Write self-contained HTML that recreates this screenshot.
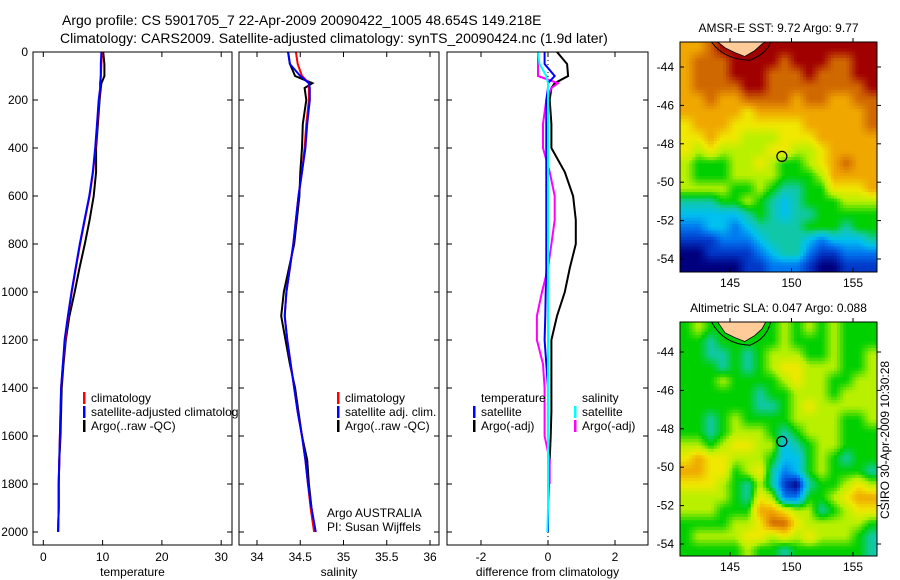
<!DOCTYPE html>
<html><head><meta charset="utf-8"><style>
html,body{margin:0;padding:0;background:#fff;}
svg{display:block;font-family:"Liberation Sans",sans-serif;}
</style></head><body>
<svg id="fig" width="900" height="580" viewBox="0 0 900 580">
<text x="62" y="25" font-size="14">Argo profile: CS 5901705_7 22-Apr-2009 20090422_1005 48.654S 149.218E</text>
<text x="60" y="43" font-size="14">Climatology: CARS2009. Satellite-adjusted climatology: synTS_20090424.nc (1.9d later)</text>
<g id="g"></g>
</svg>
<script>
// ---- profile data ----
const depths = [0,50,100,130,150,200,300,400,500,600,700,800,900,1000,1100,1200,1300,1400,1500,1600,1700,1800,1900,2000];
const tempClim = [9.9,9.8,9.7,9.6,9.6,9.4,9.1,8.8,8.4,7.8,7.0,6.2,5.5,4.8,4.2,3.7,3.3,3.0,2.9,2.8,2.7,2.6,2.6,2.5];
const tempSat  = [9.8,9.7,9.7,9.6,9.6,9.35,9.05,8.75,8.35,7.75,6.95,6.15,5.45,4.75,4.15,3.6,3.3,3.0,2.9,2.8,2.7,2.6,2.6,2.5];
const tempArgo = [10.1,10.3,10.3,9.8,9.7,9.5,9.2,8.9,8.9,8.5,7.8,7.0,6.1,5.3,4.4,3.8,3.4,3.1,3.0,2.9,2.7,2.6,2.6,2.5];
const salClim  = [34.45,34.47,34.52,34.6,34.6,34.6,34.57,34.55,34.52,34.48,34.45,34.42,34.38,34.34,34.32,34.35,34.39,34.43,34.47,34.52,34.56,34.59,34.62,34.66];
const salSat   = [34.36,34.38,34.5,34.6,34.61,34.61,34.58,34.56,34.52,34.48,34.45,34.42,34.38,34.34,34.32,34.35,34.39,34.43,34.47,34.52,34.56,34.59,34.63,34.68];
const salArgo  = [34.36,34.38,34.44,34.64,34.55,34.57,34.53,34.52,34.5,34.49,34.46,34.43,34.37,34.31,34.28,34.33,34.38,34.44,34.48,34.52,34.58,34.6,34.63,34.67];
const diffTempSat  = [-0.1,-0.1,0.2,0.0,0.0,-0.05,-0.05,-0.05,-0.05,-0.05,-0.05,-0.05,-0.05,-0.07,-0.08,-0.1,-0.05,0,0,0,0,0,0,0];
const diffTempArgo = [0.27,0.57,0.6,0.2,0.1,0.05,0.1,0.1,0.5,0.75,0.83,0.83,0.65,0.5,0.27,0.1,0.1,0.1,0.1,0.08,0.05,0.02,0,0];
const diffSalSat   = [-0.3,-0.25,-0.05,0,0,0,0,0,0,0,0,0,0,0,0,0,0,0,0,0,0,0,0,-0.02];
const diffSalArgo  = [-0.3,-0.3,-0.3,0.3,0.1,-0.05,-0.15,-0.15,0.05,0.2,0.2,0.1,0.0,-0.18,-0.33,-0.33,-0.15,-0.1,-0.1,-0.1,0.05,0.05,null,null];
const tempTicks = [0,10,20,30];
const salTicks = [34,34.5,35,35.5,36];
const salTickLabels = ["34","34.5","35","35.5","36"];
const diffTicks = [-2,0,2];
const depthTicks = [0,200,400,600,800,1000,1200,1400,1600,1800,2000];
// ---- map data (palette indices 0..10, rows north->south) ----
const sstTitle = "AMSR-E SST: 9.72 Argo: 9.77";
const slaTitle = "Altimetric SLA: 0.047 Argo: 0.088";
const sstGrid = [
"8,8,9,10,10,10,10,10,10,10,10,10,10,10,10,10",
"8,9,9,9,10,10,10,10,9,10,10,10,9,9,10,10",
"8,9,9,9,10,10,10,9,9,9,10,9,9,9,10,10",
"8,9,9,9,9,10,10,9,9,9,9,9,9,9,9,10",
"8,8,9,8,8,9,9,9,9,8,9,9,8,8,9,9",
"8,8,8,8,8,7,8,8,8,8,8,8,8,8,8,9",
"7,8,8,8,7,7,7,7,7,7,8,8,8,8,8,9",
"7,7,8,7,7,6,6,6,7,7,7,8,8,8,8,8",
"7,6,7,6,6,6,6,7,7,6,6,7,8,8,8,8",
"6,5,5,5,6,6,7,6,5,5,6,7,8,9,8,8",
"6,5,5,5,6,6,6,6,5,5,5,6,8,8,8,8",
"6,6,6,6,5,5,6,5,4,4,5,5,7,7,7,8",
"4,4,4,5,5,6,5,4,3,4,5,5,5,6,6,6",
"3,3,3,3,3,4,5,4,3,4,4,5,5,5,5,5",
"2,2,3,3,2,3,4,4,4,4,5,5,5,4,5,5",
"1,1,1,2,2,2,3,4,4,4,3,2,3,3,3,4",
"0,0,1,1,1,1,2,3,4,4,2,1,1,2,2,2",
"0,0,0,0,0,1,1,2,2,2,1,0,0,1,1,1"];
const slaGrid = [
"5,6,5,5,5,5,5,5,6,5,6,5,6,5,5,5",
"5,5,4,5,5,5,5,5,6,5,5,5,6,5,5,5",
"5,5,4,4,5,4,5,6,6,6,5,5,6,5,5,6",
"5,5,5,4,5,4,5,6,7,7,6,6,6,5,5,6",
"5,5,5,6,5,5,5,5,6,7,6,6,5,5,6,6",
"5,5,5,5,5,5,4,5,5,6,6,6,5,6,6,6",
"5,5,5,5,5,5,4,4,5,6,7,6,6,6,6,6",
"5,5,4,5,6,5,5,5,5,6,6,6,6,5,5,6",
"5,5,4,5,6,6,6,5,4,5,6,6,6,5,5,5",
"6,6,5,6,7,7,6,6,3,4,5,6,6,5,5,5",
"7,8,7,7,6,6,6,5,3,3,5,6,5,4,5,5",
"8,8,7,7,5,6,7,4,2,3,5,6,5,5,5,4",
"7,7,7,6,5,4,6,4,1,0,4,5,5,6,7,6",
"6,6,6,6,5,4,7,6,2,2,5,5,6,7,8,8",
"6,6,6,5,5,5,8,8,7,6,6,4,5,6,7,7",
"5,5,5,5,6,6,7,9,9,7,6,6,6,6,6,5",
"5,6,6,6,6,7,7,6,7,6,7,6,6,6,5,4",
"5,5,5,5,5,6,5,5,4,5,5,5,5,5,5,4"];
const latTicks = [-44,-46,-48,-50,-52,-54];
const lonTicks = [145,150,155];
const argoLon = 149.218, argoLat = -48.654;

const palette = [[0,0,127],[0,56,200],[0,120,240],[0,192,240],[16,200,168],[0,208,0],[184,240,0],[240,232,0],[240,168,0],[208,104,0],[160,0,0]];
function colorAt(v){v=Math.max(0,Math.min(10,v));const i=Math.min(9,Math.floor(v)),f=v-i;
  const a=palette[i],b=palette[i+1];
  return 'rgb('+a.map((c,k)=>Math.round(c+(b[k]-c)*f)).join(',')+')';}
const NS="http://www.w3.org/2000/svg";
const G=document.getElementById('g');
function mk(tag,attrs,parent){const e=document.createElementNS(NS,tag);for(const k in attrs)e.setAttribute(k,attrs[k]);(parent||G).appendChild(e);return e;}
function txt(x,y,s,anchor,size,parent){const t=mk('text',{x:x,y:y,'font-size':size||12,'text-anchor':anchor||'start'},parent);t.textContent=s;return t;}

const Y0=52, YB=545;
function yD(d){return Y0+d*0.24;}
function drawPanel(name,x0,x1,xf,ticks,labels,xlabel,showY){
  const g=mk('g',{});
  
  
  mk('rect',{x:x0,y:Y0,width:x1-x0,height:YB-Y0,fill:'#fff',stroke:'none'},g);
  ticks.forEach((t,i)=>{const x=xf(t);
    mk('line',{x1:x,y1:Y0,x2:x,y2:Y0+5,stroke:'#000'},g);
    mk('line',{x1:x,y1:YB,x2:x,y2:YB-5,stroke:'#000'},g);
    const l=txt(x,561,labels[i],'middle',12,g);
    
    
  });
  depthTicks.forEach(d=>{const y=yD(d);
    mk('line',{x1:x0,y1:y,x2:x0+5,y2:y,stroke:'#000'},g);
    mk('line',{x1:x1,y1:y,x2:x1-5,y2:y,stroke:'#000'},g);
    if(showY){const l=txt(x0-5,y+4,String(d),'end',12,g);
      
      }
  });
  const xl=txt((x0+x1)/2,576,xlabel,'middle',12,g);
  
  
  return g;
}
function line(g,vals,xf,color,name,w){
  let d='';let pen=false;
  vals.forEach((v,i)=>{if(v===null){pen=false;return;}d+=(pen?'L':'M')+xf(v).toFixed(1)+','+yD(depths[i]).toFixed(1);pen=true;});
  const p=mk('path',{d:d,fill:'none',stroke:color,'stroke-width':w||2},g);
  
  
}
function legend(g,x,y,color,label){
  mk('rect',{x:x,y:y-10,width:2.5,height:12,fill:color},g);
  const t=txt(x+8,y,label,'start',12,g);
  
  
}

// panel 1 temperature
const xT=v=>43.3+v*5.93;
const p1=drawPanel('temperature-panel',33,232,xT,tempTicks,tempTicks.map(String),'temperature',true);
line(p1,tempArgo,xT,'#000','argo-temperature-line');
line(p1,tempClim,xT,'#f00','climatology-temperature-line');
line(p1,tempSat,xT,'#00f','satellite-temperature-line');
legend(p1,83,402,'#f00','climatology');
legend(p1,83,416,'#00f','satellite-adjusted climatology');
legend(p1,83,430,'#000','Argo(..raw -QC)');
mk('rect',{x:33,y:Y0,width:199,height:YB-Y0,fill:'none',stroke:'#000'},p1);

// panel 2 salinity
const xS=v=>257+(v-34)*86.5;
const p2=drawPanel('salinity-panel',239,439,xS,salTicks,salTickLabels,'salinity',false);
line(p2,salArgo,xS,'#000','argo-salinity-line');
line(p2,salClim,xS,'#f00','climatology-salinity-line');
line(p2,salSat,xS,'#00f','satellite-salinity-line');
legend(p2,337,402,'#f00','climatology');
legend(p2,337,416,'#00f','satellite adj. clim.');
legend(p2,337,430,'#000','Argo(..raw -QC)');
txt(327,517,'Argo AUSTRALIA','start',12,p2);
txt(327,531,'PI: Susan Wijffels','start',12,p2);
mk('rect',{x:239,y:Y0,width:200,height:YB-Y0,fill:'none',stroke:'#000'},p2);

// panel 3 differences
const xDf=v=>548+v*33.5;
const p3=drawPanel('difference-panel',447,648,xDf,diffTicks,diffTicks.map(String),'difference from climatology',false);
mk('line',{x1:xDf(0),y1:Y0,x2:xDf(0),y2:YB,stroke:'#000','stroke-dasharray':'1,3'},p3);
line(p3,diffTempArgo,xDf,'#000','argo-temperature-diff-line');
line(p3,diffSalArgo,xDf,'#f0f','argo-salinity-diff-line');
line(p3,diffTempSat,xDf,'#00f','satellite-temperature-diff-line');
line(p3,diffSalSat,xDf,'#0ff','satellite-salinity-diff-line');
txt(481,402,'temperature','start',12,p3);
txt(582,402,'salinity','start',12,p3);
legend(p3,473,416,'#00f','satellite');
legend(p3,473,430,'#000','Argo(-adj)');
legend(p3,574,416,'#0ff','satellite');
legend(p3,574,430,'#f0f','Argo(-adj)');
mk('rect',{x:447,y:Y0,width:201,height:YB-Y0,fill:'none',stroke:'#000'},p3);

// maps
function drawMap(name,grid,title,top,bottom,lat44y){
  const g=mk('g',{});
  
  
  const x0=680,x1=877;
  const rows=grid.map(r=>r.split(',').map(Number));
  const R=rows.length,C=rows[0].length,S=4;
  const cw=(x1-x0)/(C*S), ch=(bottom-top)/(R*S);
  function val(fy,fx){ // bilinear over cell centres
    fy=Math.max(0,Math.min(R-1,fy));fx=Math.max(0,Math.min(C-1,fx));
    const i=Math.min(R-2,Math.floor(fy)),j=Math.min(C-2,Math.floor(fx)),a=fy-i,b=fx-j;
    return rows[i][j]*(1-a)*(1-b)+rows[i][j+1]*(1-a)*b+rows[i+1][j]*a*(1-b)+rows[i+1][j+1]*a*b;}
  for(let i=0;i<R*S;i++)for(let j=0;j<C*S;j++){
    const v=val((i+0.5)/S-0.5,(j+0.5)/S-0.5);
    const c=mk('rect',{x:(x0+j*cw).toFixed(2),y:(top+i*ch).toFixed(2),width:(cw+0.5).toFixed(2),height:(ch+0.5).toFixed(2),fill:colorAt(v)},g);
    
    
  }
  const lx=lon=>730+(lon-145)*12.3, ly=lat=>lat44y+(-44-lat)*19.2;
  // Tasmania
  mk('path',{d:`M${lx(143.5)},${top} Q${lx(144.5)},${ly(-43.6)} ${lx(146.6)},${ly(-43.65)} Q${lx(148)},${ly(-43.3)} ${lx(148.3)},${top}`,fill:'none',stroke:'#000','stroke-width':1},g);
  const land=mk('path',{d:`M${lx(144.0)},${top} L${lx(144.6)},${ly(-43.0)} L${lx(145.4)},${ly(-43.25)} L${lx(146.2)},${ly(-43.45)} L${lx(147.0)},${ly(-43.15)} L${lx(147.6)},${ly(-42.8)} L${lx(147.9)},${top} Z`,fill:'#ffcc99',stroke:'#000','stroke-width':0.8},g);
  
  
  const mk1=mk('circle',{cx:lx(argoLon),cy:ly(argoLat),r:5,fill:'none',stroke:'#000','stroke-width':1.2},g);
  
  
  mk('rect',{x:x0,y:top,width:x1-x0,height:bottom-top,fill:'none',stroke:'#000'},g);
  latTicks.forEach(l=>{const y=ly(l);
    mk('line',{x1:x0,y1:y,x2:x0+4,y2:y,stroke:'#000'},g);
    mk('line',{x1:x1,y1:y,x2:x1+4,y2:y,stroke:'#000'},g);
    const t=txt(674,y+4,String(l),'end',12,g);
    
    });
  lonTicks.forEach(l=>{const x=lx(l);
    mk('line',{x1:x,y1:bottom,x2:x,y2:bottom-4,stroke:'#000'},g);
    mk('line',{x1:x,y1:top,x2:x,y2:top-4,stroke:'#000'},g);
    const t=txt(x,bottom+15,String(l),'middle',12,g);
    
    });
  const tt=txt((x0+x1)/2,top-10,title,'middle',12,g);
  
  
}
drawMap('sst-map',sstGrid,sstTitle,42,272,67);
drawMap('sla-map',slaGrid,slaTitle,322,556,352);
const st=txt(0,0,'CSIRO 30-Apr-2009 10:30:28','middle',12);
st.setAttribute('transform','translate(889,440) rotate(-90)');


</script>
</body></html>
